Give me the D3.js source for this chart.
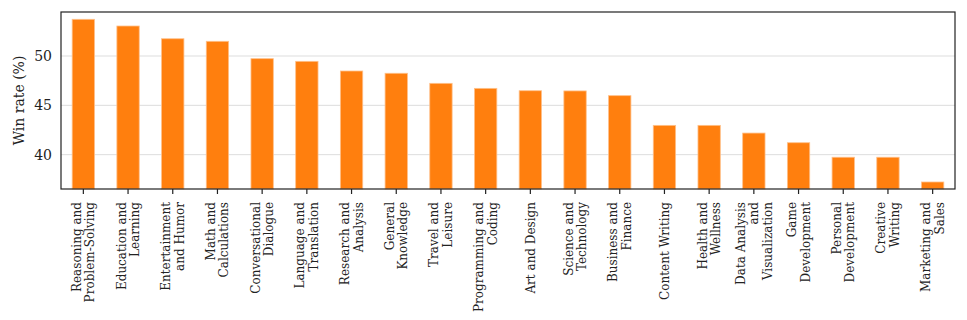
<!DOCTYPE html>
<html>
<head>
<meta charset="utf-8">
<script src="https://cdn.jsdelivr.net/npm/d3@7"></script>
<style>
  body { margin: 0; background: #fff; }
  svg text { font-family: "DejaVu Serif", "Liberation Serif", serif; fill: #222; }
</style>
</head>
<body>
<div id="chart"></div>
<script>
// Category labels, split into the lines shown under each bar
const categories = [
    ["Reasoning and", "Problem-Solving"],
    ["Education and", "Learning"],
    ["Entertainment", "and Humor"],
    ["Math and", "Calculations"],
    ["Conversational", "Dialogue"],
    ["Language and", "Translation"],
    ["Research and", "Analysis"],
    ["General", "Knowledge"],
    ["Travel and", "Leisure"],
    ["Programming and", "Coding"],
    ["Art and Design"],
    ["Science and", "Technology"],
    ["Business and", "Finance"],
    ["Content Writing"],
    ["Health and", "Wellness"],
    ["Data Analysis", "and", "Visualization"],
    ["Game", "Development"],
    ["Personal", "Development"],
    ["Creative", "Writing"],
    ["Marketing and", "Sales"]
];

// Win rate per category (%)
const winRates = [53.72, 53.04, 51.75, 51.49, 49.73, 49.46, 48.48, 48.25, 47.23, 46.72,
    46.48, 46.46, 45.98, 42.97, 42.97, 42.19, 41.21, 39.74, 39.74, 37.23];

const yTicks = [40, 45, 50];

const margin = { top: 12, right: 12, bottom: 131, left: 61 };
const width = 967 - margin.left - margin.right;
const height = 320 - margin.top - margin.bottom;

const svg = d3.select("#chart")
    .append("svg")
    .attr("width", width + margin.left + margin.right)
    .attr("height", height + margin.top + margin.bottom)
    .append("g")
    .attr("transform", `translate(${margin.left},${margin.top})`);

const keys = categories.map((d) => d.join(" "));

const xScale = d3.scaleBand()
    .domain(keys)
    .range([0, width])
    .paddingInner(0.5)
    .paddingOuter(0.25);

const yScale = d3.scaleLinear()
    .domain([36.52, 54.46])
    .range([height, 0]);

// Horizontal grid lines
svg.append("g")
    .selectAll("line")
    .data(yTicks)
    .join("line")
    .attr("x1", 0)
    .attr("x2", width)
    .attr("y1", (d) => yScale(d))
    .attr("y2", (d) => yScale(d))
    .style("stroke", "#dddddd")
    .style("stroke-width", 1);

// Bars
svg.append("g")
    .selectAll("rect")
    .data(winRates)
    .join("rect")
    .attr("x", (d, i) => xScale(keys[i]))
    .attr("width", xScale.bandwidth())
    .attr("y", (d) => yScale(d))
    .attr("height", (d) => height - yScale(d))
    .style("fill", "#ff7f0e")
    .style("stroke", "#ffc08a")
    .style("stroke-width", 0.8);

// y axis (labels only, no tick marks)
const yAxis = svg.append("g")
    .call(d3.axisLeft(yScale).tickValues(yTicks).tickSize(0).tickPadding(9));
yAxis.select(".domain").remove();
yAxis.selectAll("text")
    .style("font-size", "14px")
    .style("font-family", "\"DejaVu Serif\", serif");

// x axis ticks
const xAxis = svg.append("g")
    .attr("transform", `translate(0, ${height})`)
    .call(d3.axisBottom(xScale).tickSize(5).tickFormat(""));
xAxis.select(".domain").remove();
xAxis.selectAll(".tick line").style("stroke", "#222").style("stroke-width", 1.2);

// Rotated multi-line category labels, right-aligned against the axis
const labelGroups = svg.append("g")
    .selectAll("g")
    .data(categories)
    .join("g")
    .attr("transform", (d, i) =>
        `translate(${xScale(keys[i]) + xScale.bandwidth() / 2}, ${height + 13}) rotate(-90)`);

const lineGap = 13.5;
labelGroups.each(function (lines) {
    const g = d3.select(this);
    const offset = (lines.length - 1) * lineGap / 2;
    lines.forEach((ln, j) => {
        g.append("text")
            .attr("x", 0)
            .attr("y", j * lineGap - offset)
            .attr("dy", "0.35em")
            .attr("text-anchor", "end")
            .style("font-size", "12px")
            .text(ln);
    });
});

// Frame
svg.append("rect")
    .attr("width", width)
    .attr("height", height)
    .style("fill", "none")
    .style("stroke", "#222")
    .style("stroke-width", 1.2);

// y axis title
svg.append("text")
    .attr("transform", `translate(-42, ${height / 2}) rotate(-90)`)
    .attr("text-anchor", "middle")
    .attr("dy", "0.35em")
    .style("font-size", "14px")
    .text("Win rate (%)");
</script>
</body>
</html>
